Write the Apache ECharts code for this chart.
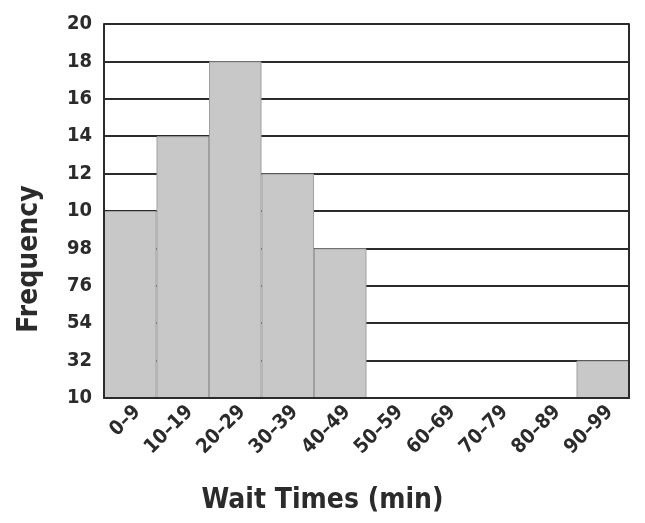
<!DOCTYPE html>
<html><head><meta charset="utf-8">
<script src="https://cdn.jsdelivr.net/npm/echarts@6/dist/echarts.min.js"></script>
<style>html,body{margin:0;padding:0;background:#fff}#c{width:645px;height:523px}</style>
</head><body><div id="c"></div>
<script>
const categories = ["0–9","10–19","20–29","30–39","40–49","50–59","60–69","70–79","80–89","90–99"];
const frequencies = [10, 14, 18, 12, 8, 0, 0, 0, 0, 2];
const yTickLabels = ["10","32","54","76","98","10","12","14","16","18","20"];
const xTitle = "Wait Times (min)";
const yTitle = "Frequency";

const font = "'DejaVu Sans Condensed', 'Liberation Sans Narrow', sans-serif";
const ink = "#2b2b2b";
const chart = echarts.init(document.getElementById('c'), null, {renderer: 'canvas'});
chart.setOption({
  backgroundColor: '#fff',
  animation: false,
  title: {
    text: xTitle, left: 'center', top: 482,
    textStyle: {fontFamily: font, fontWeight: 'bold', fontSize: 28, color: ink}
  },
  grid: {left: 104, right: 16, top: 24, bottom: 125, containLabel: false},
  xAxis: {
    type: 'category', data: categories, boundaryGap: true, z: 3,
    axisLine: {show: true, lineStyle: {color: ink, width: 2}},
    axisTick: {show: false},
    axisLabel: {rotate: 45, margin: 18, interval: 0, fontFamily: font, fontWeight: 'bold', fontSize: 20, color: ink, padding: [0, -10, 0, 0]}
  },
  yAxis: [{
    type: 'value', min: 0, max: 20, interval: 2, z: 3,
    name: yTitle, nameLocation: 'middle', nameGap: 60,
    nameTextStyle: {fontFamily: font, fontWeight: 'bold', fontSize: 28, color: ink, padding: [0, 96, 0, 0]},
    axisLine: {show: true, lineStyle: {color: ink, width: 2}},
    axisTick: {show: false},
    axisLabel: {margin: 12, fontFamily: font, fontWeight: 'bold', fontSize: 20, color: ink,
      formatter: v => yTickLabels[Math.round(v / 2)]},
    splitLine: {show: false}
  }, {
    type: 'value', min: 0, max: 20, interval: 2, position: 'right', z: 3,
    axisLine: {show: true, lineStyle: {color: ink, width: 2}},
    axisTick: {show: false}, axisLabel: {show: false}, splitLine: {show: false}
  }, {
    type: 'value', min: 0, max: 20, interval: 2, position: 'left', z: 0,
    axisLine: {show: false}, axisTick: {show: false}, axisLabel: {show: false},
    splitLine: {show: true, lineStyle: {color: ink, width: 2}}
  }],
  series: [{
    type: 'bar', data: frequencies, barCategoryGap: '0%', z: 2,
    itemStyle: {color: '#c8c8c8', borderColor: '#a0a0a0', borderWidth: 1}
  }]
});
</script></body></html>
